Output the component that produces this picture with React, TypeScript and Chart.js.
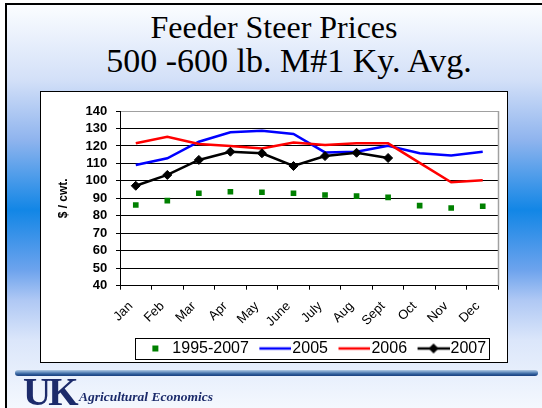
import React, { useEffect, useRef } from 'react';
import { Chart, registerables } from 'chart.js';

Chart.register(...registerables);

// ---- data ----
const months = ['Jan', 'Feb', 'Mar', 'Apr', 'May', 'June', 'July', 'Aug', 'Sept', 'Oct', 'Nov', 'Dec'];
const avg1995to2007 = [86.2, 88.7, 92.9, 93.8, 93.5, 92.9, 91.9, 91.3, 90.6, 85.8, 84.5, 85.5];
const prices2005 = [109.1, 112.9, 122.4, 127.8, 128.7, 126.9, 116.3, 116.7, 120.1, 115.8, 114.6, 116.7];
const prices2006 = [121.5, 125.3, 121.1, 120.0, 118.6, 121.9, 120.5, 121.5, 121.5, 110.3, 99.2, 100.3];
const prices2007 = [97.2, 103.4, 112.0, 116.7, 115.8, 108.5, 114.2, 116.1, 113.1, null, null, null];
const seriesLabels = ['1995-2007', '2005', '2006', '2007'];
const seriesColors = ['#008000', '#0000ff', '#ff0000', '#000000'];
const yMin = 40;
const yMax = 140;
const yStep = 10;
const yTitle = '$ / cwt.';
const titleLine1 = 'Feeder Steer Prices';
const titleLine2 = '500 -600 lb. M#1 Ky. Avg.';
const footerText = 'Agricultural Economics';

const SANS = '"Liberation Sans", Arial, sans-serif';
const SERIF = '"Liberation Serif", "Times New Roman", serif';

function makeLegendImage(kind: 'square' | 'line' | 'lineDiamond', color: string) {
  const c = document.createElement('canvas');
  c.width = 46;
  c.height = 16;
  const g = c.getContext('2d')!;
  if (kind === 'square') {
    g.fillStyle = color;
    g.fillRect(27, 5, 6, 6);
  } else {
    g.strokeStyle = color;
    g.lineWidth = 2.5;
    g.beginPath();
    g.moveTo(14, 8);
    g.lineTo(46, 8);
    g.stroke();
    if (kind === 'lineDiamond') {
      g.fillStyle = color;
      g.beginPath();
      g.moveTo(25, 8);
      g.lineTo(30, 3);
      g.lineTo(35, 8);
      g.lineTo(30, 13);
      g.closePath();
      g.fill();
    }
  }
  return c;
}

const legendBorder = {
  id: 'legendBorder',
  afterDraw(chart: any) {
    const hb = chart.legend && chart.legend.legendHitBoxes;
    if (!hb || !hb.length) return;
    const first = hb[0];
    const last = hb[hb.length - 1];
    const ctx = chart.ctx;
    const l = Math.round(first.left + 3) + 0.5;
    const r = Math.round(last.left + last.width + 3) + 0.5;
    const t = Math.round(first.top - 2.5) + 0.5;
    const b = Math.round(first.top + first.height + 2.5) + 0.5;
    ctx.save();
    ctx.strokeStyle = '#000';
    ctx.lineWidth = 1;
    ctx.strokeRect(l, t, r - l, b - t);
    ctx.restore();
  },
};

const plotBorder = {
  id: 'plotBorder',
  beforeDatasetsDraw(chart: any) {
    const { right, top, bottom } = chart.chartArea;
    const ctx = chart.ctx;
    ctx.save();
    ctx.strokeStyle = '#a0a0a0';
    ctx.lineWidth = 1.5;
    ctx.beginPath();
    ctx.moveTo(right, top);
    ctx.lineTo(right, bottom);
    ctx.stroke();
    ctx.restore();
  },
};

export default function App() {
  const ref = useRef<HTMLCanvasElement>(null);

  useEffect(() => {
    const images = [
      makeLegendImage('square', seriesColors[0]),
      makeLegendImage('line', seriesColors[1]),
      makeLegendImage('line', seriesColors[2]),
      makeLegendImage('lineDiamond', seriesColors[3]),
    ];
    const chart = new Chart(ref.current!, {
      type: 'line',
      data: {
        labels: months,
        datasets: [
          {
            label: seriesLabels[0],
            data: avg1995to2007,
            showLine: false,
            pointStyle: 'rect',
            pointRadius: 4,
            pointBackgroundColor: seriesColors[0],
            pointBorderColor: seriesColors[0],
            pointBorderWidth: 0,
            borderColor: seriesColors[0],
            backgroundColor: seriesColors[0],
            order: 4,
          },
          {
            label: seriesLabels[1],
            data: prices2005,
            borderColor: seriesColors[1],
            backgroundColor: seriesColors[1],
            borderWidth: 2.5,
            pointRadius: 0,
            tension: 0,
            order: 3,
          },
          {
            label: seriesLabels[2],
            data: prices2006,
            borderColor: seriesColors[2],
            backgroundColor: seriesColors[2],
            borderWidth: 2.5,
            pointRadius: 0,
            tension: 0,
            order: 2,
          },
          {
            label: seriesLabels[3],
            data: prices2007,
            borderColor: seriesColors[3],
            backgroundColor: seriesColors[3],
            borderWidth: 2.5,
            pointStyle: 'rectRot',
            pointRadius: 4.5,
            pointBackgroundColor: seriesColors[3],
            pointBorderColor: seriesColors[3],
            pointBorderWidth: 1,
            tension: 0,
            order: 1,
          },
        ],
      } as any,
      plugins: [plotBorder, legendBorder],
      options: {
        animation: false,
        responsive: false,
        maintainAspectRatio: false,
        devicePixelRatio: 1,
        events: [],
        layout: { padding: { top: 19, right: 8.5, bottom: 13.5, left: 0 } },
        plugins: {
          tooltip: { enabled: false },
          title: { display: false },
          legend: {
            position: 'bottom',
            fullSize: false,
            labels: {
              usePointStyle: true,
              pointStyleWidth: 32,
              boxHeight: 16,
              padding: 3.5,
              color: '#000',
              font: { family: SANS, size: 16 },
              generateLabels: () =>
                seriesLabels.map((text, i) => ({
                  text,
                  pointStyle: images[i],
                  datasetIndex: i,
                  hidden: false,
                  lineWidth: 0,
                  strokeStyle: 'rgba(0,0,0,0)',
                  fillStyle: 'rgba(0,0,0,0)',
                  fontColor: '#000',
                })),
            },
          },
        },
        scales: {
          x: {
            type: 'category',
            offset: true,
            grid: {
              offset: true,
              drawOnChartArea: false,
              drawTicks: true,
              tickLength: 4,
              color: '#000',
              tickColor: '#000',
              lineWidth: 1,
            },
            border: { display: true, color: '#000', width: 1 },
            ticks: {
              autoSkip: false,
              maxRotation: 45,
              minRotation: 45,
              padding: 9,
              labelOffset: -5,
              color: '#000',
              font: { family: SANS, size: 13 },
            },
            afterFit: (s: any) => {
              s.height = 51.3;
            },
          },
          y: {
            min: yMin,
            max: yMax,
            ticks: {
              stepSize: yStep,
              autoSkip: false,
              color: '#000',
              padding: 8.7,
              font: { family: SANS, size: 13, weight: 'bold' },
            },
            grid: {
              color: (c: any) => (c.tick && c.tick.value === yMax ? '#a0a0a0' : '#000'),
              tickColor: '#000',
              tickLength: 4,
              lineWidth: 1,
            },
            border: { display: true, color: '#000', width: 1 },
            title: {
              display: true,
              text: yTitle,
              color: '#000',
              font: { family: SANS, size: 12, weight: 'bold' },
              padding: { top: 15, bottom: 0 },
            },
            afterFit: (s: any) => {
              s.width = 79;
            },
          },
        },
      } as any,
    });
    return () => chart.destroy();
  }, []);

  const bg =
    'linear-gradient(to bottom, #fbfdff 0px, #d3e0f8 75px, #8fb4ee 135px, #1286e6 205px, #6da3ed 265px, #afc8f4 295px, #dbe6fa 335px, #f4f8fe 403px, #f8fbff 500px)';

  return (
    <div
      style={{
        position: 'fixed',
        left: 0,
        top: 0,
        width: 542,
        height: 408,
        overflow: 'hidden',
        background: '#fff',
      }}
    >
      <div
        style={{
          position: 'absolute',
          left: 5,
          top: 3,
          width: 600,
          height: 500,
          border: '2px solid #000',
          background: bg,
        }}
      />
      <div
        style={{
          position: 'absolute',
          left: 74,
          top: 10.5,
          width: 400,
          textAlign: 'center',
          fontFamily: SERIF,
          fontSize: 32,
          lineHeight: '32px',
          whiteSpace: 'nowrap',
          color: '#000',
        }}
      >
        {titleLine1}
      </div>
      <div
        style={{
          position: 'absolute',
          left: 89,
          top: 43.5,
          width: 400,
          textAlign: 'center',
          fontFamily: SERIF,
          fontSize: 34,
          lineHeight: '34px',
          whiteSpace: 'nowrap',
          color: '#000',
        }}
      >
        {titleLine2}
      </div>
      <div
        style={{
          position: 'absolute',
          left: 40,
          top: 91,
          width: 468,
          height: 272,
          boxSizing: 'border-box',
          border: '1px solid #000',
          background: '#fff',
        }}
      />
      <canvas
        ref={ref}
        width={466}
        height={288}
        style={{ position: 'absolute', left: 41, top: 92, width: 466, height: 288 }}
      />
      <div
        style={{
          position: 'absolute',
          left: 15,
          top: 370,
          width: 523,
          height: 6,
          borderRadius: 3,
          background: 'linear-gradient(to bottom, #b3cbe4 0%, #6b93c2 35%, #2c5a98 70%, #1a3f7e 100%)',
        }}
      />
      <div
        style={{
          position: 'absolute',
          left: 23,
          top: 371.5,
          fontFamily: SERIF,
          fontWeight: 'bold',
          fontSize: 39,
          lineHeight: '39px',
          letterSpacing: -3,
          color: '#1c2b6b',
          whiteSpace: 'nowrap',
        }}
      >
        UK
      </div>
      <div
        style={{
          position: 'absolute',
          left: 79,
          top: 389.7,
          fontFamily: SERIF,
          fontWeight: 'bold',
          fontStyle: 'italic',
          fontSize: 13.5,
          lineHeight: '13.5px',
          color: '#1c2b6b',
          whiteSpace: 'nowrap',
        }}
      >
        {footerText}
      </div>
    </div>
  );
}
